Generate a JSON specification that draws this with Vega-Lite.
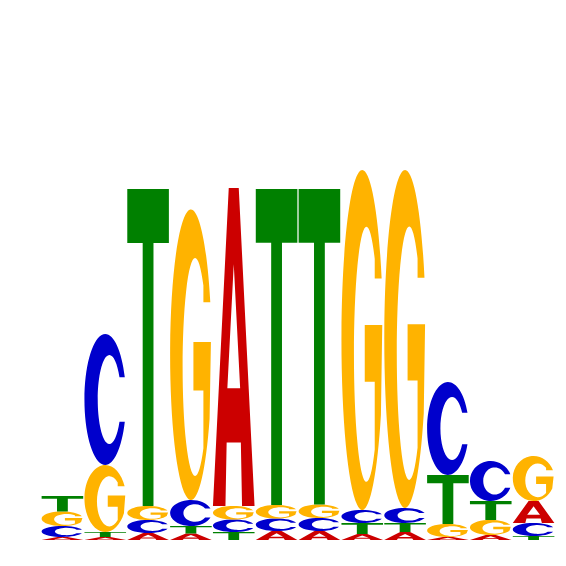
{
  "$schema": "https://vega.github.io/schema/vega-lite/v6.json",
  "width": 514,
  "height": 500,
  "autosize": "none",
  "padding": {"left": 41, "top": 40, "right": 11, "bottom": 26},
  "data": {
    "values": [
      {"pos": 1, "base": "A", "bits": 0.012},
      {"pos": 1, "base": "C", "bits": 0.044},
      {"pos": 1, "base": "G", "bits": 0.058},
      {"pos": 1, "base": "T", "bits": 0.062},
      {"pos": 2, "base": "A", "bits": 0.012},
      {"pos": 2, "base": "T", "bits": 0.02},
      {"pos": 2, "base": "G", "bits": 0.268},
      {"pos": 2, "base": "C", "bits": 0.524},
      {"pos": 3, "base": "A", "bits": 0.028},
      {"pos": 3, "base": "C", "bits": 0.052},
      {"pos": 3, "base": "G", "bits": 0.056},
      {"pos": 3, "base": "T", "bits": 1.268},
      {"pos": 4, "base": "A", "bits": 0.026},
      {"pos": 4, "base": "T", "bits": 0.03},
      {"pos": 4, "base": "C", "bits": 0.104},
      {"pos": 4, "base": "G", "bits": 1.162},
      {"pos": 5, "base": "T", "bits": 0.032},
      {"pos": 5, "base": "C", "bits": 0.05},
      {"pos": 5, "base": "G", "bits": 0.054},
      {"pos": 5, "base": "A", "bits": 1.272},
      {"pos": 6, "base": "A", "bits": 0.036},
      {"pos": 6, "base": "C", "bits": 0.05},
      {"pos": 6, "base": "G", "bits": 0.054},
      {"pos": 6, "base": "T", "bits": 1.264},
      {"pos": 7, "base": "A", "bits": 0.036},
      {"pos": 7, "base": "C", "bits": 0.052},
      {"pos": 7, "base": "G", "bits": 0.054},
      {"pos": 7, "base": "T", "bits": 1.262},
      {"pos": 8, "base": "A", "bits": 0.024},
      {"pos": 8, "base": "T", "bits": 0.044},
      {"pos": 8, "base": "C", "bits": 0.052},
      {"pos": 8, "base": "G", "bits": 1.36},
      {"pos": 9, "base": "A", "bits": 0.032},
      {"pos": 9, "base": "T", "bits": 0.036},
      {"pos": 9, "base": "C", "bits": 0.06},
      {"pos": 9, "base": "G", "bits": 1.352},
      {"pos": 10, "base": "A", "bits": 0.012},
      {"pos": 10, "base": "G", "bits": 0.052},
      {"pos": 10, "base": "T", "bits": 0.196},
      {"pos": 10, "base": "C", "bits": 0.372},
      {"pos": 11, "base": "A", "bits": 0.02},
      {"pos": 11, "base": "G", "bits": 0.06},
      {"pos": 11, "base": "T", "bits": 0.076},
      {"pos": 11, "base": "C", "bits": 0.16},
      {"pos": 12, "base": "T", "bits": 0.016},
      {"pos": 12, "base": "C", "bits": 0.052},
      {"pos": 12, "base": "A", "bits": 0.088},
      {"pos": 12, "base": "G", "bits": 0.18}
    ]
  },
  "transform": [
    {"stack": "bits", "groupby": ["pos"], "sort": [{"field": "bits", "order": "ascending"}], "as": ["y0", "y1"]},
    {"calculate": "-datum.bits * 250", "as": "n"},
    {"calculate": "datum.base === 'T' ? 'M-20.8,' + datum.n + 'L20.8,' + datum.n + 'L20.8,' + datum.n * 0.83 + 'L5.4,' + datum.n * 0.83 + 'L5.4,0L-5.4,0L-5.4,' + datum.n * 0.83 + 'L-20.8,' + datum.n * 0.83 + 'Z' : datum.base === 'A' ? 'M-20.8,0L-5,' + datum.n + 'L5,' + datum.n + 'L20.8,0L8.3,0L7.1,' + datum.n * 0.2 + 'L-7.1,' + datum.n * 0.2 + 'L-8.3,0ZM-6.4,' + datum.n * 0.37 + 'L6.4,' + datum.n * 0.37 + 'L0,' + datum.n * 0.76 + 'Z' : datum.base === 'C' ? 'M19.55,' + datum.n * 0.67 + 'A20.8,' + datum.n * -0.5 + ' 0 1 0 19.55,' + datum.n * 0.33 + 'L14.23,' + datum.n * 0.33 + 'A11.65,' + datum.n * -0.34 + ' 0 1 1 14.23,' + datum.n * 0.67 + 'Z' : 'M19.39,' + datum.n * 0.681 + 'A20.8,' + datum.n * -0.5 + ' 0 1 0 18.68,' + datum.n * 0.28 + 'L20,' + datum.n * 0.544 + 'L2.5,' + datum.n * 0.544 + 'L2.5,' + datum.n * 0.377 + 'L12.48,' + datum.n * 0.377 + 'L12.48,' + datum.n * 0.178 + 'A12.48,' + datum.n * -0.375 + ' 0 1 1 12.48,' + datum.n * 0.738 + 'L12.48,' + datum.n * 0.681 + 'Z'", "as": "glyph"}
  ],
  "mark": {"type": "point", "filled": true, "opacity": 1, "size": 4, "strokeWidth": 0},
  "encoding": {
    "x": {"field": "pos", "type": "quantitative", "scale": {"domain": [0.5, 12.5], "nice": false, "zero": false}, "axis": null},
    "y": {"field": "y0", "type": "quantitative", "scale": {"domain": [0, 2], "nice": false}, "axis": null},
    "shape": {"field": "glyph", "type": "nominal", "scale": null, "legend": null},
    "color": {
      "field": "base",
      "type": "nominal",
      "scale": {"domain": ["A", "C", "G", "T"], "range": ["#CC0000", "#0000CC", "#FFB300", "#008000"]},
      "legend": null
    }
  },
  "config": {"view": {"stroke": null}}
}
